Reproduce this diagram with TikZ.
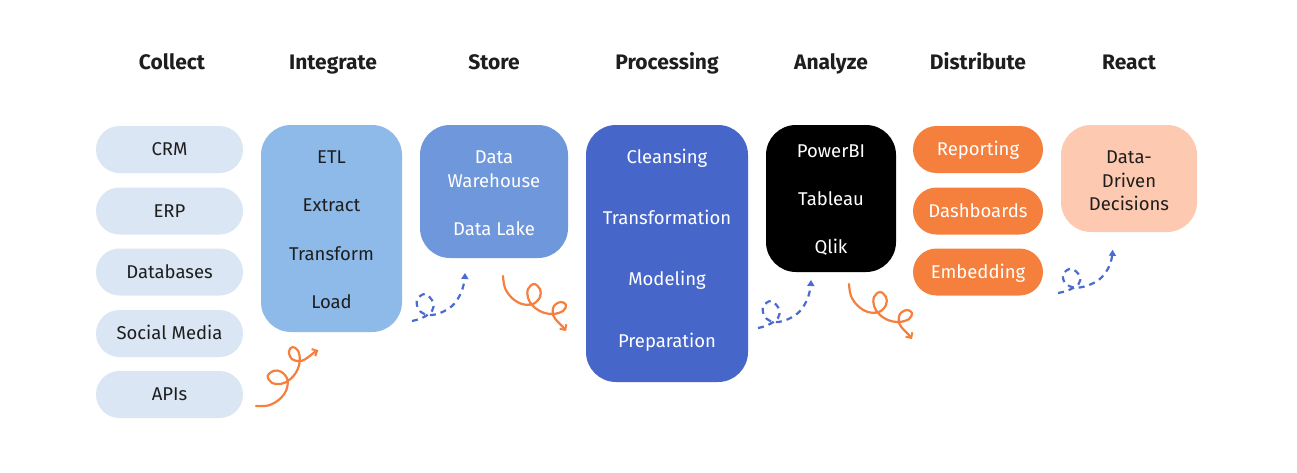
\documentclass[tikz,border=0pt]{standalone}
\usepackage{fontspec}
\setmainfont{Fira Sans}
\usetikzlibrary{arrows.meta}
\definecolor{pillblue}{HTML}{DAE6F3}
\definecolor{intblue}{HTML}{8DBAE8}
\definecolor{storeblue}{HTML}{6F97DB}
\definecolor{procblue}{HTML}{4766C9}
\definecolor{distorange}{HTML}{F5803E}
\definecolor{reactpeach}{HTML}{FDCAB1}
\definecolor{dashblue}{HTML}{4A6BD0}
\definecolor{curlorange}{HTML}{F5803E}
\definecolor{darktext}{HTML}{1E1E1E}
\tikzset{
  header/.style={font=\fontsize{21}{25}\selectfont\bfseries, text=darktext, inner sep=0pt,
     text height=14.5pt, text depth=0pt},
  txt/.style={font=\fontsize{18.5}{22}\selectfont, text=darktext, inner sep=0pt, align=center,
     text height=12.8pt, text depth=0pt},
  wtxt/.style={txt, text=white},
  pill/.style={rounded corners=23.5pt, minimum height=47pt, inner sep=0pt,
     font=\fontsize{18.5}{22}\selectfont, text height=12.8pt, text depth=0pt},
  cpill/.style={pill, fill=pillblue, minimum width=147pt, text=darktext},
  dpill/.style={pill, fill=distorange, minimum width=130pt, text=white},
  bigbox/.style={rounded corners=30pt, inner sep=0pt},
  curlO/.style={draw=curlorange, line width=2.2pt, line cap=round,
     -{Straight Barb[length=4pt,width=8pt,line width=2pt]}},
  curlB/.style={draw=dashblue, line width=2.2pt, dash pattern=on 6pt off 5pt,
     -{Triangle[length=6pt,width=7pt]}},
}
\newcommand\orangecurl{\draw[curlO] plot[smooth, tension=0.6] coordinates {(0,0) (2,12) (9,22) (19,28) (30,28) (37,21) (37,13) (31,8) (25,13) (25,22) (30,30) (39,36) (50,38) (60,35) (63,29) (58,26) (51,30) (50,39) (55,46) (60,51) (63,55)};}
\newcommand\bluecurl{\draw[curlB] plot[smooth, tension=0.6] coordinates {(0,0) (10,-3) (20,-10) (21,-19) (13,-27) (5,-21) (7,-11) (16,-6) (28,-8) (40,-15) (48,-26) (52,-38) (53,-48)};}
\begin{document}
\begin{tikzpicture}[x=1pt,y=-1pt]
\useasboundingbox (0,0) rectangle (1297,472);
\fill[white] (0,0) rectangle (1297,472);

% headers
\node[header] (hcollect) at (172,62.5) {Collect};
\node[header] (hintegrate) at (333,62.5) {Integrate};
\node[header] (hstore) at (494,62.5) {Store};
\node[header] (hproc) at (667,62.5) {Processing};
\node[header] (hanalyze) at (831,62.5) {Analyze};
\node[header] (hdist) at (978,62.5) {Distribute};
\node[header] (hreact) at (1129,62.5) {React};

% collect pills
\node[cpill] (crm) at (169.5,149.5) {CRM};
\node[cpill] (erp) at (169.5,211) {ERP};
\node[cpill] (db) at (169.5,272) {Databases};
\node[cpill] (social) at (169.5,333.5) {Social Media};
\node[cpill] (apis) at (169.5,394.5) {APIs};

% integrate
\node[bigbox, fill=intblue, minimum width=141pt, minimum height=207pt] (integ) at (331.5,228.5) {};
\node[txt] (etl) at (331.5,157) {ETL};
\node[txt] (extract) at (331.5,205) {Extract};
\node[txt] (transform) at (331.5,254) {Transform};
\node[txt] (load) at (331.5,302) {Load};

% store
\node[bigbox, fill=storeblue, minimum width=148pt, minimum height=133pt] (store) at (494,191.5) {};
\node[wtxt] (data1) at (494,157) {Data};
\node[wtxt] (wh) at (494,181) {Warehouse};
\node[wtxt] (lake) at (494,229) {Data Lake};

% processing
\node[bigbox, fill=procblue, minimum width=162pt, minimum height=257pt] (proc) at (667,253.5) {};
\node[wtxt] (cleansing) at (667,157) {Cleansing};
\node[wtxt] (transformation) at (667,218) {Transformation};
\node[wtxt] (modeling) at (667,279) {Modeling};
\node[wtxt] (prep) at (667,341) {Preparation};

% analyze
\node[bigbox, fill=black, minimum width=130pt, minimum height=147pt] (analyze) at (831,198.5) {};
\node[wtxt] (powerbi) at (831,151) {PowerBI};
\node[wtxt] (tableau) at (831,199) {Tableau};
\node[wtxt] (qlik) at (831,247) {Qlik};

% distribute pills
\node[dpill] (reporting) at (978,149.5) {Reporting};
\node[dpill] (dashboards) at (978,211) {Dashboards};
\node[dpill] (embedding) at (978,272) {Embedding};

% react
\node[bigbox, fill=reactpeach, minimum width=136pt, minimum height=107pt] (react) at (1129,178.5) {};
\node[txt] (rdata) at (1129,157) {Data-};
\node[txt] (rdriven) at (1129,181) {Driven};
\node[txt] (rdec) at (1129,204) {Decisions};

% curly arrows
\coordinate (o1s) at (256,406);
\coordinate (o2s) at (503,276);
\coordinate (o3s) at (849,284);
\coordinate (b1s) at (412,321);
\coordinate (b2s) at (758,328);
\coordinate (b3s) at (1058,293);
\begin{scope}[shift={(o1s)}, rotate=83]\orangecurl\end{scope}
\begin{scope}[shift={(o2s)}]\orangecurl\end{scope}
\begin{scope}[shift={(o3s)}]\orangecurl\end{scope}
\begin{scope}[shift={(b1s)}]\bluecurl\end{scope}
\begin{scope}[shift={(b2s)}]\bluecurl\end{scope}
\begin{scope}[shift={(b3s)}, xscale=1.03, yscale=0.9]\bluecurl\end{scope}
\end{tikzpicture}
\end{document}
